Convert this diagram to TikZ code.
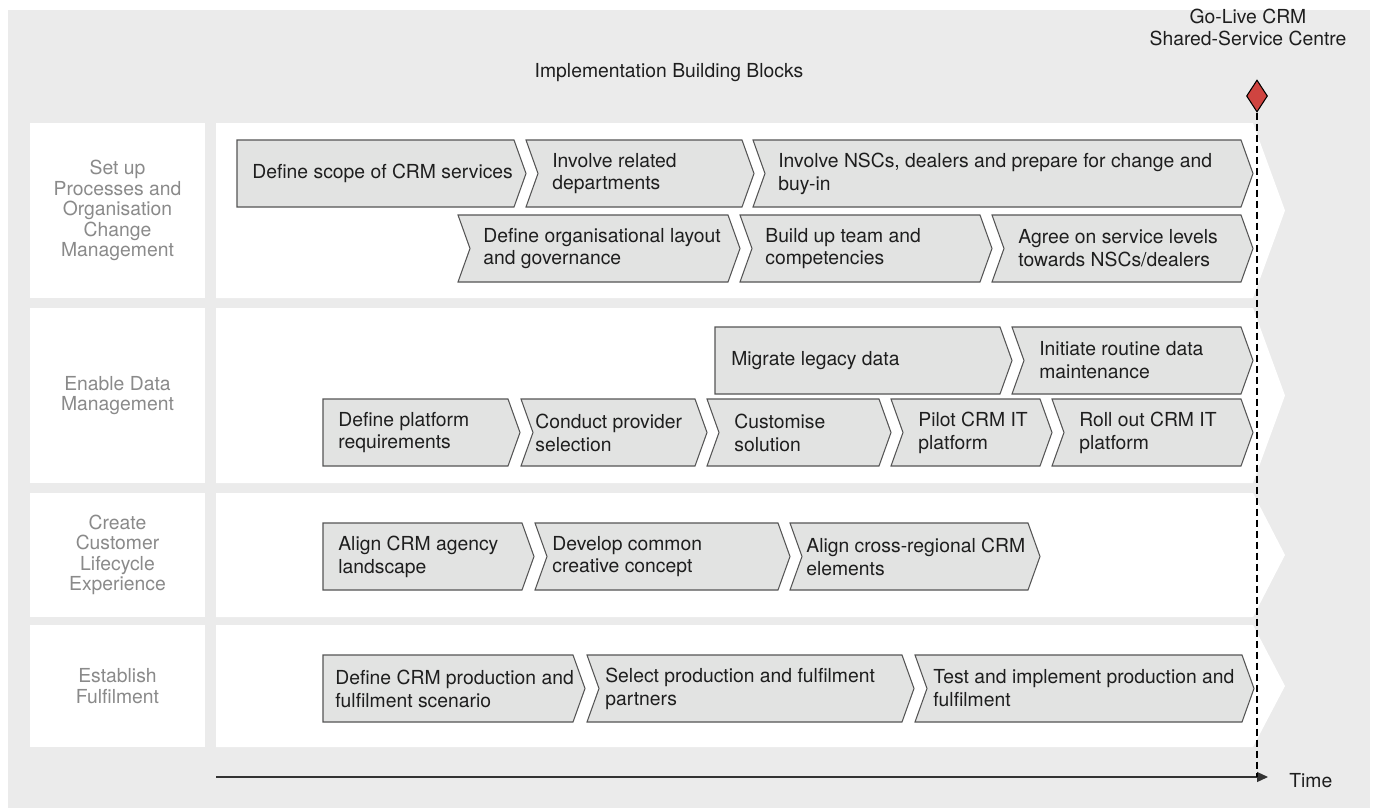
\documentclass[tikz,border=0pt]{standalone}
\usepackage{fontspec}
\setmainfont{TeX Gyre Heros}
\usetikzlibrary{arrows.meta,shapes.geometric}

\definecolor{bggray}{HTML}{EBEBEB}
\definecolor{chevfill}{HTML}{E2E3E2}
\definecolor{chevline}{HTML}{555555}
\definecolor{lbltext}{HTML}{8A8A8A}
\definecolor{darktext}{HTML}{1E1E1E}
\definecolor{golive}{HTML}{CF4440}

\begin{document}
\begin{tikzpicture}[x=0.2mm, y=-0.2mm,
    chev/.style={fill=chevfill, draw=chevline, line width=0.6pt, line join=miter},
    chevtext/.style={anchor=west, align=left, inner sep=0pt, text=darktext, font=\fontsize{11}{13}\selectfont},
    rowlabel/.style={align=center, inner sep=0pt, text=lbltext, font=\fontsize{11}{11.7}\selectfont},
    headtext/.style={align=center, inner sep=0pt, text=darktext, font=\fontsize{11}{12.5}\selectfont},
    milestone/.style={diamond, draw=black, line width=0.6pt, fill=golive, minimum width=4.2mm, minimum height=6.4mm, inner sep=0pt},
    axis/.style={draw=black!80, line width=0.7pt, -{Triangle[length=2.2mm, width=2mm]}},
    golivedash/.style={draw=black, line width=0.6pt, dash pattern=on 1.4mm off 0.8mm}]

  \useasboundingbox (0,0) rectangle (1375,809);
  \fill[bggray] (8,10) rectangle (1370,808);

  \def\hh{67};
  \def\dd{12};

  %row labels and white bands
  \foreach \top/\bot/\name/\txt in {123/298/setup/{Set up\\Processes and\\Organisation\\Change\\Management},
                                     308/483/data/{Enable Data\\Management},
                                     493/617/lifecycle/{Create\\Customer\\Lifecycle\\Experience},
                                     625/747/fulfil/{Establish\\Fulfilment}}{
      \fill[white] (30,\top) rectangle (205,\bot);
      \fill[white] (216,\top) -- (1253,\top) -- (1285,{(\top+\bot)/2}) -- (1253,\bot) -- (216,\bot) -- cycle;
      \node[rowlabel] (\name) at (117.5,{(\top+\bot)/2}) {\txt};
  }

  %title and milestone
  \node[headtext, anchor=base] (title) at (669,77) {Implementation Building Blocks};
  \node[headtext, anchor=base] (golivetext) at (1248,45) {Go-Live CRM\\Shared-Service Centre};
  \node[milestone] (golive) at (1257,96) {};

  %building blocks: top / left / right / notch / text x / name / text
  \foreach \top/\lft/\rgt/\n/\tx/\name/\txt in {
      140/237/514/0/252/scope/{Define scope of CRM services},
      140/526/742/1/552/depts/{Involve related\\departments},
      140/753/1241/1/778/buyin/{Involve NSCs, dealers and prepare for change and\\buy-in},
      215/458/728/1/483/layout/{Define organisational layout\\and governance},
      215/740/980/1/765/team/{Build up team and\\competencies},
      215/992/1241/1/1018/levels/{Agree on service levels\\towards NSCs/dealers},
      327/715/1000/0/731/migrate/{Migrate legacy data},
      327/1012/1241/1/1039/routine/{Initiate routine data\\maintenance},
      399/323/508/0/338/platform/{Define platform\\requirements},
      399/521/695/1/535/provider/{Conduct provider\\selection},
      399/707/879/1/734/customise/{Customise\\solution},
      399/891/1040/1/918/pilot/{Pilot CRM IT\\platform},
      399/1052/1241/1/1079/rollout/{Roll out CRM IT\\platform},
      523/323/522/0/338/agency/{Align CRM agency\\landscape},
      523/535/778/1/552/concept/{Develop common\\creative concept},
      523/790/1028/1/806/elements/{Align cross-regional CRM\\elements},
      655/323/573/0/335/scenario/{Define CRM production and\\fulfilment scenario},
      655/587/902/1/605/partners/{Select production and fulfilment\\partners},
      655/915/1242/1/933/implement/{Test and implement production and\\fulfilment}}{
      \draw[chev] (\lft,\top) -- (\rgt,\top) -- ({\rgt+\dd},{\top+\hh/2}) -- (\rgt,{\top+\hh})
            -- (\lft,{\top+\hh}) -- ({\lft+\n*\dd},{\top+\hh/2}) -- cycle;
      \node[chevtext] (\name) at (\tx,{\top+\hh/2}) {\txt};
  }

  %time axis
  \coordinate (axisstart) at (216,777);
  \coordinate (axisend) at (1268,777);
  \draw[axis] (axisstart) -- (axisend);
  \node[headtext, anchor=west] (time) at (1289,781) {Time};
  \draw[golivedash] (golive.south) -- (golive.south |- axisstart);

\end{tikzpicture}
\end{document}
